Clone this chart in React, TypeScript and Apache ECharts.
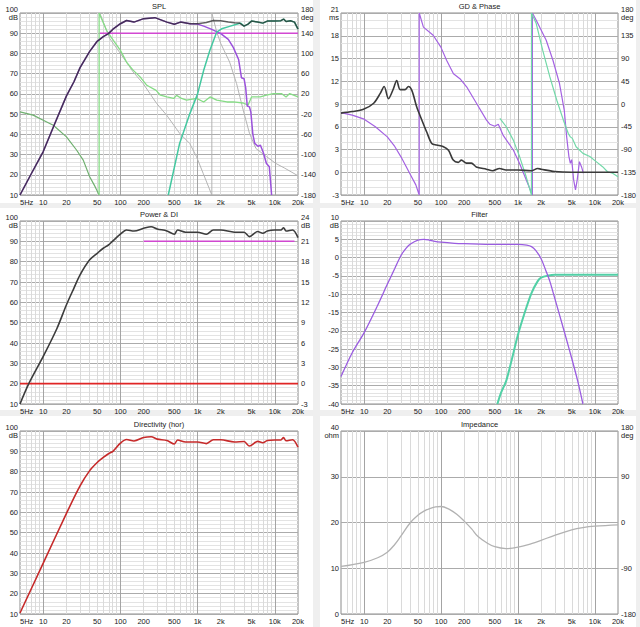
import React, { useEffect, useRef } from 'react';
import * as echarts from 'echarts';

// ---------- axis ticks ----------
const freqTicks = [5, 10, 20, 50, 100, 200, 500, 1000, 2000, 5000, 10000, 20000];
const freqTickLabels = ['5Hz', '10', '20', '50', '100', '200', '500', '1k', '2k', '5k', '10k', '20k'];
const majorGridFreqs = [10, 100, 1000, 10000];
const minorGridFreqs = [6, 7, 8, 9, 20, 30, 40, 50, 60, 70, 80, 90, 200, 300, 400, 500, 600, 700, 800, 900,
  2000, 3000, 4000, 5000, 6000, 7000, 8000, 9000];
const splPhaseTicks = [-180, -140, -100, -60, -20, 20, 60, 100, 140, 180];
const titles = ['SPL', 'GD & Phase', 'Power & DI', 'Filter', 'Directivity (hor)', 'Impedance'];

// ---------- SPL panel ----------
const splTotalF = [5, 7, 10, 14, 20, 25, 30, 40, 50, 60, 70, 80, 100, 120, 150, 200, 280, 400, 500, 600, 800, 1000, 1300, 1600, 2000, 2500, 3000, 3500, 4000, 4500, 5000, 6000, 7000, 8000, 10000, 12000, 13000, 14000, 16000, 18000, 20000];
const splTotalV = [10, 20.5, 31.5, 45, 59, 66, 73, 81, 86, 88.3, 89.8, 92, 94.7, 96.3, 95.5, 97.2, 97.7, 95.5, 94.4, 95.5, 94.7, 94.7, 95.3, 96.3, 96.2, 95.5, 95.2, 95, 93.5, 94.5, 96, 95.5, 95, 96, 96, 96.2, 97, 95.8, 96.2, 95.5, 92];
const wooferF = [5, 7, 10, 14, 20, 25, 30, 40, 50, 60, 70, 80, 100, 120, 150, 200, 280, 400, 500, 600, 800, 1000, 1200, 1500, 2000, 2500, 2900, 3400, 3700, 4000, 4200, 4400, 4700, 4900, 5200, 5500, 6100, 6500, 7100, 7800, 8500, 9100];
const wooferV = [10, 20.5, 31.5, 45, 59, 66, 73, 81, 86, 88.3, 89.8, 92, 94.7, 96.3, 95.5, 97.2, 97.7, 95.5, 94.4, 95.5, 94.7, 94.5, 93.5, 92, 89.8, 87, 83, 77, 68, 67.5, 63, 54, 53.6, 51, 40, 35.5, 34, 34.7, 31, 25.6, 24, 10];
const tweeterF = [417, 585, 790, 1000, 1200, 1440, 1770, 2050, 2600, 3200, 3600, 4000, 4500, 5000, 6000, 7000, 8000, 10000, 12000, 13000, 14000, 16000, 18000, 20000];
const tweeterV = [10, 35.5, 50, 60, 71.7, 81.5, 90.6, 92.2, 93.4, 94.4, 95, 93.5, 94.5, 96, 95.5, 95, 96, 96, 96.2, 97, 95.8, 96.2, 95.5, 92];
const targetF = [54, 20000];
const targetV = [90, 90];
const totalPhaseF = [54, 73, 100, 146, 197, 295, 397, 585, 790, 967, 1180, 1530, 1530, 1770, 2000, 2600, 3200, 3900, 4700, 5700, 7800, 10300, 13500, 20000];
const totalPhaseV = [180, 129, 100, 63.5, 40.5, 1, -22, -58, -78, -104, -137, -180, 180, 142.5, 119.4, 83, 40.5, -12, -58, -88, -104, -117.5, -127, -142];
const lowPhaseF = [5, 7.4, 10, 13.5, 20, 27, 33, 40, 47, 53];
const lowPhaseV = [-15.5, -22, -32, -42, -65, -91, -111, -144, -163.5, -180];
const highPhaseF = [53, 53, 66, 81, 100, 120, 146, 180, 220, 290, 330, 400, 490, 535, 620, 720, 970, 1200, 1450, 1770, 2400, 2900, 3900, 4500, 5000, 6500, 7800, 9600, 12200, 14000, 15600, 20000];
const highPhaseV = [-180, 180, 145.8, 126, 106, 83, 67, 53.6, 37, 27, 17.4, 14, 11, 17, 11, 7.5, 11, 4, 14, 7.5, 4, 4, 2, -2.3, 14, 14, 17.4, 20.7, 20.7, 14, 20.7, 14];

// ---------- GD & Phase panel ----------
const gdF = [5, 7, 9.8, 13.3, 16.2, 18.2, 20.7, 24, 26.5, 29.4, 34, 37.6, 41.7, 48.3, 56.2, 65.1, 75.7, 87.6, 106, 125, 144, 167, 184, 214, 248, 287, 388, 470, 577, 698, 1000, 1500, 1800, 2000, 3000, 5000, 10000, 20000];
const gdV = [7.8, 8.0, 8.3, 9.1, 10.4, 11.3, 9.7, 11.0, 12.1, 10.9, 10.9, 11.3, 10.8, 8.6, 6.9, 5.3, 3.8, 3.6, 3.4, 2.9, 1.6, 1.3, 1.6, 1.2, 1.2, 0.7, 0.4, 0.2, 0.5, 0.3, 0.3, 0.2, 0.5, 0.4, 0.1, 0, 0, 0];
const wooferPhaseF = [5, 7, 10, 14, 20, 25, 30, 40, 47, 52, 52, 59, 79, 99, 118, 145, 176, 215, 290, 390, 430, 500, 555, 640, 870, 1050, 1280, 1540, 1540, 1730, 2330, 2850, 3470, 4000, 4300, 4600, 4800, 5000, 5300, 5600, 5900, 6300, 6700, 7100];
const wooferPhaseV = [-17, -22, -30, -45, -65, -84, -104, -140, -160, -180, 180, 152, 136, 113, 86.5, 60, 50, 34, 1, -32, -40, -44, -40, -61.5, -91, -117.5, -150, -180, 180, 165.5, 126, 86.5, 40.5, -12, -65, -104, -117.5, -110, -150, -170, -150, -114, -124, -137];
const tweeterPhaseF = [582, 705, 870, 1050, 1280, 1500, 1500, 1730, 2100, 2600, 3200, 3900, 4500, 4800, 5100, 5700, 7000, 8600, 10400, 12600, 14600, 17000, 20000];
const tweeterPhaseV = [-28.6, -45, -71.4, -104, -144, -180, 180, 159, 106, 53.6, 7.5, -32, -58, -65, -68, -84.6, -97.7, -104, -114, -124, -134, -137, -144];

// ---------- Power & DI panel ----------
const powerF = [5, 6.5, 10, 15, 20, 25, 30, 40, 50, 60, 70, 80, 100, 120, 150, 200, 250, 300, 400, 500, 550, 700, 1000, 1300, 1600, 2000, 3000, 4000, 4700, 6000, 7000, 8000, 10000, 12000, 13000, 14000, 17000, 20000];
const powerV = [10, 20, 33.4, 47, 58.8, 67, 73.5, 80.9, 84.1, 86.6, 88.2, 90.2, 93.5, 95.6, 95.1, 96.4, 97.2, 96.1, 95.1, 93.5, 95.6, 94.5, 94.5, 93.5, 95.6, 95.6, 94.5, 94.5, 92.3, 94.8, 94, 95.1, 95.6, 95.6, 96.7, 95.1, 95.6, 91.8];
const diF = [200, 18000];
const diV = [21, 21];
const diRefF = [5, 20000];
const diRefV = [0, 0];

// ---------- Filter panel ----------
const filterWooferF = [5, 7, 10, 15, 20, 25, 30, 35, 40, 50, 60, 70, 80, 100, 150, 200, 500, 1000, 1300, 1500, 1700, 2000, 2300, 2600, 3000, 4000, 5000, 6000, 7000];
const filterWooferV = [-32.5, -26, -20.5, -13, -7.3, -3, 0.5, 2.5, 3.7, 4.8, 5, 4.8, 4.5, 4.2, 3.9, 3.8, 3.6, 3.6, 3.4, 3.0, 2.0, -0.3, -3.5, -6.5, -11, -20.2, -27.5, -33.8, -40];
const filterTweeterF = [540, 600, 700, 800, 1000, 1200, 1500, 1800, 2000, 2500, 3000, 20000];
const filterTweeterV = [-40, -37, -33.8, -29.3, -21.1, -15.6, -9.7, -6.5, -5.5, -4.9, -4.7, -4.7];

// ---------- Directivity panel ----------
const dirF = [5, 10, 20, 30, 40, 50, 60, 70, 80, 100, 120, 150, 200, 250, 300, 400, 500, 550, 700, 1000, 1300, 1600, 2000, 3000, 4000, 4700, 6000, 7000, 8000, 10000, 12000, 13000, 14000, 17000, 20000];
const dirV = [10.5, 35, 59.5, 73, 80.5, 84.5, 87, 88.8, 90, 94, 95.8, 95.1, 96.8, 97.2, 96, 95.3, 93.6, 95.6, 94.6, 94.6, 93.8, 95.7, 95.7, 94.6, 94.8, 92.6, 94.9, 94.2, 95.3, 95.6, 95.6, 96.8, 95.2, 95.7, 92];

// ---------- Impedance panel ----------
const impF = [5, 10, 15, 20, 25, 30, 40, 50, 60, 70, 85, 100, 130, 160, 200, 250, 300, 400, 500, 700, 1000, 1500, 2000, 3000, 5000, 7000, 10000, 20000];
const impV = [10.4, 11.3, 12.3, 13.5, 15.2, 17.0, 20.0, 21.6, 22.5, 23.0, 23.4, 23.5, 22.8, 21.8, 20.3, 18.6, 17.0, 15.5, 14.7, 14.3, 14.6, 15.4, 16.1, 17.2, 18.4, 18.9, 19.2, 19.5];

const FONT = '"Liberation Sans", Arial, sans-serif';
const LABEL_COLOR = '#222';
const FS = 7.5;

const X_MIN = Math.log10(5);
const X_MAX = Math.log10(20000);

function fmtFreq(v: number) {
  let best = 0;
  let bd = Infinity;
  freqTicks.forEach((f, i) => {
    const d = Math.abs(Math.log10(f) - v);
    if (d < bd) { bd = d; best = i; }
  });
  return freqTickLabels[best];
}

function pts(fs: number[], vs: number[]) {
  return fs.map((f, i) => [Math.log10(f), vs[i]]);
}

export default function App() {
  const ref = useRef<HTMLDivElement>(null);

  useEffect(() => {
    document.body.style.margin = '0';
    const chart = echarts.init(ref.current!, null, { renderer: 'svg' });

    const grids = [
      { left: 20, top: 13, width: 278, height: 182 },
      { left: 341, top: 13, width: 277, height: 182 },
      { left: 20, top: 221, width: 278, height: 183 },
      { left: 341, top: 221, width: 277, height: 183 },
      { left: 20, top: 431, width: 278, height: 183 },
      { left: 341, top: 431, width: 277, height: 183 },
    ];
    const panels = [
      [0, 0, 313, 203], [320, 0, 316, 203],
      [0, 208, 313, 202], [320, 208, 316, 202],
      [0, 416, 313, 211], [320, 416, 316, 211],
    ];

    const xAxes = grids.map((_, i) => ({
      type: 'value', gridIndex: i, min: X_MIN, max: X_MAX,
      axisLine: { show: false }, axisTick: { show: false }, splitLine: { show: false },
      axisLabel: {
        customValues: freqTicks.map((f) => Math.log10(f)),
        formatter: (v: number) => fmtFreq(v),
        fontSize: FS, color: LABEL_COLOR, fontFamily: FONT, margin: 3,
        alignMinLabel: 'left',
      },
    }));

    const unitLabel = (v: number, max: number, unit: string) => (v === max ? `{n|${v}}\n{u|${unit}}` : `${v}`);
    const rich = {
      n: { fontSize: FS, fontFamily: FONT, color: LABEL_COLOR, lineHeight: 8 },
      u: { fontSize: FS, fontFamily: FONT, color: LABEL_COLOR, lineHeight: 8 },
    };

    const leftAxis = (gi: number, min: number, max: number, interval: number, unit: string, minorSplit: number) => ({
      type: 'value', gridIndex: gi, position: 'left', min, max, interval,
      axisLine: { show: false }, axisTick: { show: false },
      splitLine: { show: true, lineStyle: { color: '#ababab', width: 1 } },
      minorTick: { show: false, splitNumber: minorSplit || 5 },
      minorSplitLine: { show: minorSplit > 0, lineStyle: { color: '#e3e3e3', width: 1 } },
      axisLabel: {
        fontSize: FS, color: LABEL_COLOR, fontFamily: FONT, margin: 2, rich,
        formatter: (v: number) => unitLabel(v, max, unit),
      },
    });
    const rightAxis = (gi: number, min: number, max: number, interval: number | null, unit: string, custom?: number[]) => ({
      type: 'value', gridIndex: gi, position: 'right', min, max,
      ...(interval ? { interval } : {}),
      axisLine: { show: false }, axisTick: { show: false }, splitLine: { show: false },
      axisLabel: {
        fontSize: FS, color: LABEL_COLOR, fontFamily: FONT, margin: 3, rich,
        ...(custom ? { customValues: custom } : {}),
        formatter: (v: number) => unitLabel(v, max, unit),
      },
    });

    const yAxes = [
      leftAxis(0, 10, 100, 10, 'dB', 5),          // 0
      rightAxis(0, -180, 180, null, 'deg', splPhaseTicks), // 1
      leftAxis(1, -3, 21, 3, 'ms', 3),            // 2
      rightAxis(1, -180, 180, 45, 'deg'),         // 3
      leftAxis(2, 10, 100, 10, 'dB', 5),          // 4
      rightAxis(2, -3, 24, 3, 'dB'),              // 5
      leftAxis(3, -40, 10, 5, 'dB', 5),           // 6
      leftAxis(4, 10, 100, 10, 'dB', 5),          // 7
      leftAxis(5, 0, 40, 10, 'ohm', 0),           // 8
      rightAxis(5, -180, 180, 90, 'deg'),         // 9
    ];
    const leftIdx = [0, 2, 4, 6, 7, 8];

    const gridSeries = grids.map((_, i) => ({
      type: 'line', xAxisIndex: i, yAxisIndex: leftIdx[i], silent: true, z: 1,
      data: [], showSymbol: false, symbol: 'none', lineStyle: { width: 0 },
      markLine: {
        z: 1, silent: true, symbol: ['none', 'none'], animation: false, label: { show: false },
        emphasis: { disabled: true },
        data: [
          ...minorGridFreqs.map((f) => ({ xAxis: Math.log10(f), lineStyle: { color: '#dadada', width: 1, type: 'solid' } })),
          ...majorGridFreqs.map((f) => ({ xAxis: Math.log10(f), lineStyle: { color: '#a4a4a4', width: 1, type: 'solid' } })),
        ],
      },
    }));

    const line = (xi: number, yi: number, fs: number[], vs: number[], color: string, width: number, extra: any = {}) => ({
      type: 'line', xAxisIndex: xi, yAxisIndex: yi, data: pts(fs, vs),
      showSymbol: false, symbol: 'none', silent: true, z: extra.z !== undefined ? extra.z : 6,
      lineStyle: { color, width, ...(extra.lineStyle || {}) },
      itemStyle: { color },
      ...(extra.smooth !== undefined ? { smooth: extra.smooth } : {}),
    });

    const dataSeries = [
      // SPL
      line(0, 1, lowPhaseF, lowPhaseV, '#6fb06f', 1.2),
      line(0, 1, totalPhaseF, totalPhaseV, '#b4b4b4', 1),
      line(0, 1, highPhaseF, highPhaseV, '#86dc86', 1.3),
      line(0, 0, targetF, targetV, '#d248d2', 1.5),
      line(0, 0, wooferF, wooferV, '#9b52dc', 1.5),
      line(0, 0, tweeterF, tweeterV, '#44c8a0', 1.5),
      line(0, 0, splTotalF, splTotalV, '#202020', 1.5, { lineStyle: { opacity: 0.7 }, z: 7 }),
      // GD & Phase
      line(1, 3, wooferPhaseF, wooferPhaseV, '#a462e2', 1.2),
      line(1, 3, tweeterPhaseF, tweeterPhaseV, '#72d8a8', 1.2),
      line(1, 2, gdF, gdV, '#3a3a3a', 1.6, { smooth: 0.3, z: 7 }),
      // Power & DI
      line(2, 5, diRefF, diRefV, '#e02626', 1.6),
      line(2, 5, diF, diV, '#d048d0', 1.5),
      line(2, 4, powerF, powerV, '#3c3c3c', 1.6, { smooth: 0.3 }),
      // Filter
      line(3, 6, filterTweeterF, filterTweeterV, '#52d0a6', 2, { smooth: 0.3 }),
      line(3, 6, filterWooferF, filterWooferV, '#9a5ce0', 1.3, { smooth: 0.3 }),
      // Directivity
      line(4, 7, dirF, dirV, '#c62a2a', 1.6, { smooth: 0.3 }),
      // Impedance
      line(5, 8, impF, impV, '#b2b2b2', 1.3, { smooth: 0.4 }),
    ];

    const graphic: any[] = [
      ...panels.map(([x, y, w, h]) => ({
        type: 'rect', z: -10, silent: true,
        shape: { x, y, width: w, height: h },
        style: { fill: '#ffffff' },
      })),
      ...grids.map((g, i) => ({
        type: 'text', z: 10, silent: true,
        x: g.left + g.width / 2, y: g.top - 7,
        style: {
          text: titles[i], fontSize: 7.5, fontFamily: FONT, fill: LABEL_COLOR,
          textAlign: 'center', textVerticalAlign: 'middle', align: 'center', verticalAlign: 'middle',
        },
      })),
    ];

    chart.setOption({
      animation: false,
      backgroundColor: '#efefef',
      textStyle: { fontFamily: FONT },
      grid: grids.map((g) => ({ ...g, show: true, backgroundColor: '#ffffff', borderColor: '#8c8c8c', borderWidth: 1, containLabel: false })),
      xAxis: xAxes,
      yAxis: yAxes,
      graphic,
      series: [...gridSeries, ...dataSeries],
    } as any);

    return () => chart.dispose();
  }, []);

  return <div ref={ref} style={{ position: 'absolute', left: 0, top: 0, width: 640, height: 627 }} />;
}
